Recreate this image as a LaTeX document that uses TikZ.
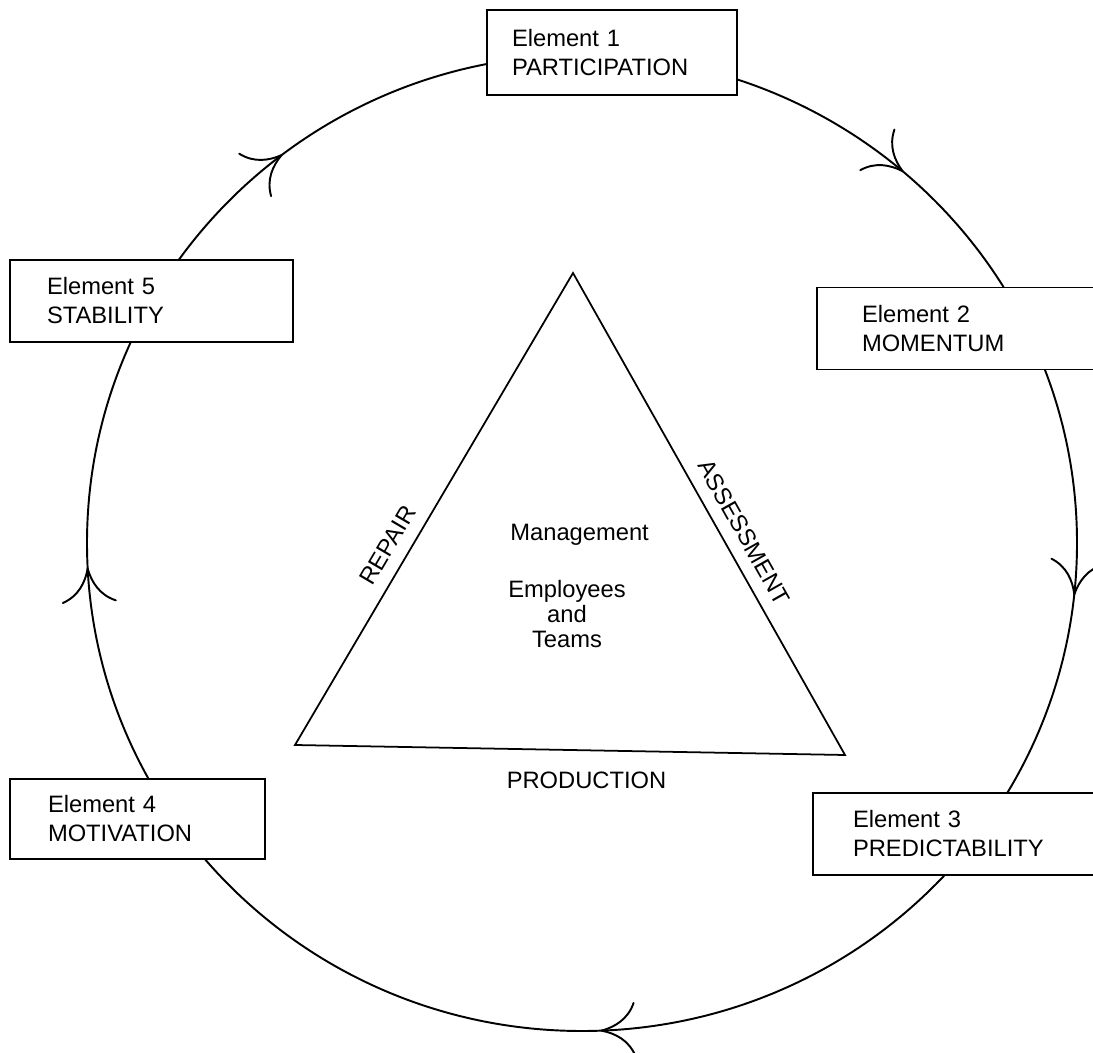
\documentclass[tikz,border=0pt]{standalone}
\usepackage{fontspec}
\setmainfont{Liberation Sans}
\usepackage{tikz}
\usetikzlibrary{arrows.meta, positioning, decorations.markings}
\tikzset{
  elem/.style={
    rectangle, draw, fill=white, line width=1pt,
    align=left, minimum height=1.64cm, inner ysep=0pt,
    font=\fontsize{13.5}{16.5}\selectfont
  },
  lbl/.style={font=\fontsize{13.5}{14.2}\selectfont, inner sep=0pt},
  side/.style={font=\fontsize{13.5}{15}\selectfont, inner sep=7pt},
  tri/.style={line width=1pt, line join=miter},
  barb/.tip={Computer Modern Rightarrow[length=7mm, width=11mm]},
  ring/.style={
    line width=1.1pt, postaction={decorate},
    decoration={markings,
      mark=at position 0.137 with {\arrowreversed{barb}},
      mark=at position 0.354 with {\arrowreversed{barb}},
      mark=at position 0.508 with {\arrowreversed{barb}},
      mark=at position 0.756 with {\arrowreversed{barb}},
      mark=at position 0.983 with {\arrowreversed{barb}}}
  },
}

\begin{document}
\begin{tikzpicture}
\useasboundingbox (0,0) rectangle (21.86,21.04);

% the cycle of elements, clockwise
\coordinate (hub) at (11.64,10.18);
\draw[ring] (hub) ellipse [x radius=9.9cm, y radius=9.76cm];

% triangle in the middle
\coordinate (apex) at (11.46,15.58);
\coordinate (botL) at (5.9,6.14);
\coordinate (botR) at (16.9,5.94);
\draw[tri] (apex) -- node[side, sloped, above, pos=0.56] {ASSESSMENT} (botR)
  -- node[side, below, inner sep=12pt, pos=0.47] {PRODUCTION} (botL)
  -- node[side, sloped, above, pos=0.4] {REPAIR} cycle;

\node[lbl, anchor=west] at (10.2,10.34) (mgmt) {Management};
\node[lbl, align=center] at (11.34,8.76) (staff) {Employees\\and\\Teams};

% the five elements
\node[elem, minimum height=1.7cm, text width=4cm, inner xsep=0.5cm] at (12.24,19.99) (e1) {Element 1\\PARTICIPATION};
\node[elem, text width=3.86cm, inner xsep=0.9cm] at (19.17,14.47) (e2) {Element 2\\MOMENTUM};
\node[elem, text width=4.14cm, inner xsep=0.8cm] at (19.13,4.36) (e3) {Element 3\\PREDICTABILITY};
\node[elem, minimum height=1.6cm, text width=3.58cm, inner xsep=0.76cm] at (2.75,4.66) (e4) {Element 4\\MOTIVATION};
\node[elem, text width=4.18cm, inner xsep=0.74cm] at (3.03,15.02) (e5) {Element 5\\STABILITY};

\end{tikzpicture}
\end{document}
